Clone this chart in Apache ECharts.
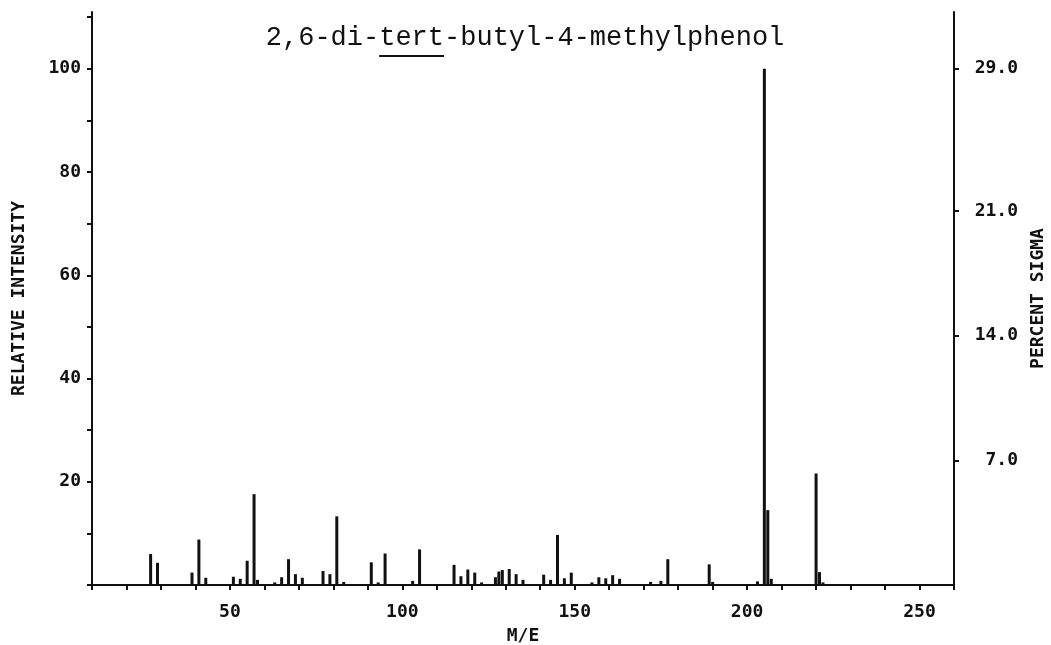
<!DOCTYPE html>
<html>
<head>
<meta charset="utf-8">
<script src="https://cdn.jsdelivr.net/npm/echarts@6/dist/echarts.min.js"></script>
<style>html,body{margin:0;padding:0;background:#fff}#c{width:1051px;height:645px}</style>
</head>
<body>
<div id="c"></div>
<script>
// m/z values and relative intensities
var mz = [27, 29, 39, 41, 43, 51, 53, 55, 57, 58, 63, 65, 67, 69, 71, 77, 79, 81, 83,
          91, 93, 95, 103, 105, 115, 117, 119, 121, 123, 127, 128, 129, 131, 133, 135,
          141, 143, 145, 147, 149, 155, 157, 159, 161, 163, 172, 175, 177, 189, 190,
          203, 205, 206, 207, 220, 221, 222];
var intensity = [6.0, 4.3, 2.4, 8.8, 1.4, 1.6, 1.2, 4.7, 17.6, 1.0, 0.5, 1.5, 5.0, 2.1, 1.4, 2.7, 2.1, 13.3, 0.6,
          4.4, 0.5, 6.1, 0.8, 6.9, 3.9, 1.7, 3.0, 2.4, 0.5, 1.5, 2.6, 2.9, 3.1, 2.1, 1.0,
          2.0, 1.0, 9.7, 1.3, 2.4, 0.5, 1.5, 1.3, 1.9, 1.2, 0.6, 0.8, 5.0, 4.0, 0.6,
          0.7, 100, 14.5, 1.2, 21.6, 2.5, 0.5];
var xTickLabels = [50, 100, 150, 200, 250];
var leftTickLabels = [20, 40, 60, 80, 100];
var rightTickLabels = [7, 14, 21, 29];
var sigmaPerPercent = 0.29; // 29.0 percent sigma at 100 relative intensity

var titleText = '2,6-di-tert-butyl-4-methylphenol';
var underlined = 'tert';

var data = mz.map(function (m, i) { return [m, intensity[i]]; });

var chart = echarts.init(document.getElementById('c'));
var labelFont = { fontFamily: 'DejaVu Sans Mono', fontWeight: 'bold', fontSize: 18, color: '#111' };
var yMax = 111;
var titleSize = 27, titleCx = 525, titleY = 40;
var pitch = titleSize * 0.6;
var tStart = titleCx - titleText.length * pitch / 2;
var uStart = tStart + titleText.indexOf(underlined) * pitch;

chart.setOption({
  animation: false,
  backgroundColor: '#fff',
  grid: { left: 92, right: 97, top: 12, bottom: 60, containLabel: false, outerBoundsMode: 'none' },
  graphic: [
    { type: 'text', left: tStart, top: titleY - titleSize / 2 - 2,
      style: { text: titleText, fontFamily: 'Liberation Mono', fontSize: titleSize, fill: '#111' } },
    { type: 'line', shape: { x1: uStart, y1: titleY + 16, x2: uStart + underlined.length * pitch, y2: titleY + 16 },
      style: { stroke: '#111', lineWidth: 2 } }
  ],
  xAxis: {
    type: 'value', min: 10, max: 260, interval: 10,
    name: 'M/E', nameLocation: 'middle', nameGap: 42,
    nameTextStyle: labelFont,
    axisLine: { lineStyle: { color: '#111', width: 2 } },
    axisTick: { length: 5, lineStyle: { color: '#111', width: 2 } },
    axisLabel: Object.assign({ margin: 18, formatter: function (v) { return xTickLabels.indexOf(v) >= 0 ? String(v) : ''; } }, labelFont),
    splitLine: { show: false }
  },
  yAxis: [
    {
      type: 'value', min: 0, max: yMax, interval: 10, position: 'left',
      name: 'RELATIVE INTENSITY', nameLocation: 'middle', nameGap: 64,
      nameTextStyle: labelFont,
      axisLine: { show: true, lineStyle: { color: '#111', width: 2 } },
      axisTick: { show: true, length: 5, lineStyle: { color: '#111', width: 2 } },
      axisLabel: Object.assign({ margin: 11, showMaxLabel: false, formatter: function (v) { return leftTickLabels.indexOf(v) >= 0 ? String(v) : ''; } }, labelFont),
      splitLine: { show: false }
    },
    {
      type: 'value', min: 0, max: yMax * sigmaPerPercent, position: 'right',
      name: 'PERCENT SIGMA', nameLocation: 'middle', nameGap: 68,
      nameTextStyle: labelFont,
      axisLine: { show: true, lineStyle: { color: '#111', width: 2 } },
      axisTick: { show: true, length: 5, customValues: rightTickLabels, lineStyle: { color: '#111', width: 2 } },
      axisLabel: Object.assign({ margin: 64, align: 'right', customValues: rightTickLabels, formatter: function (v) { return v.toFixed(1); } }, labelFont),
      splitLine: { show: false }
    }
  ],
  series: [{
    type: 'bar', data: data, barWidth: 3, yAxisIndex: 0,
    itemStyle: { color: '#111' }
  }]
});
</script>
</body>
</html>
